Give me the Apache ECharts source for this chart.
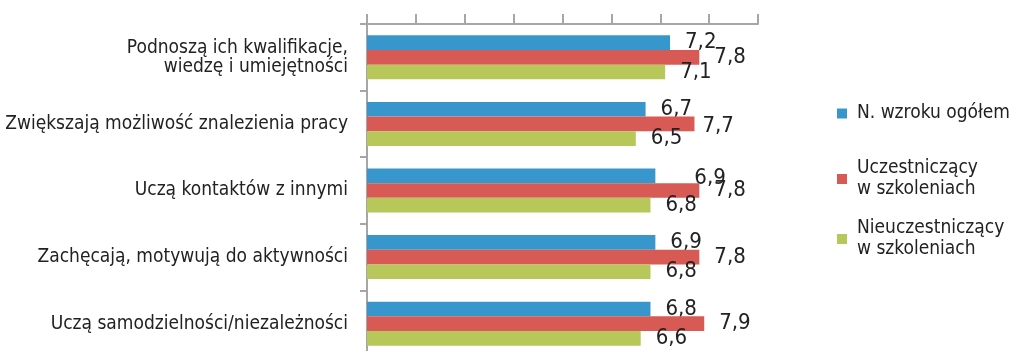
<!DOCTYPE html>
<html>
<head>
<meta charset="utf-8">
<script src="https://cdn.jsdelivr.net/npm/echarts@6/dist/echarts.min.js"></script>
<style>
  html, body { margin: 0; padding: 0; background: #ffffff; }
  #chart { width: 1017px; height: 351px; }
</style>
</head>
<body>
<div id="chart"></div>
<script>
// Ocena szkoleń: średnie oceny w skali 1–9
const categories = [
  'Podnoszą ich kwalifikacje,\nwiedzę i umiejętności',
  'Zwiększają możliwość znalezienia pracy',
  'Uczą kontaktów z innymi',
  'Zachęcają, motywują do aktywności',
  'Uczą samodzielności/niezależności'
];
const seriesNames = [
  'N. wzroku ogółem',
  'Uczestniczący\nw szkoleniach',
  'Nieuczestniczący\nw szkoleniach'
];
const ogolem = [7.2, 6.7, 6.9, 6.9, 6.8];
const uczestniczacy = [7.8, 7.7, 7.8, 7.8, 7.9];
const nieuczestniczacy = [7.1, 6.5, 6.8, 6.8, 6.6];

const colors = ['#3797CD', '#D85A55', '#B8C759'];
const FONT = '"DejaVu Sans Condensed", "Liberation Sans", sans-serif';
const TEXT = '#222222';
const AXIS = '#a6a6a6';

// a couple of value labels are nudged so they do not collide
const labelNudge = {
  '1-1': [-7, 2],
  '0-2': [24, 2]
};

function buildData(values, s) {
  return values.map((v, i) => {
    const nudge = labelNudge[s + '-' + i];
    return nudge ? { value: v, label: { offset: nudge } } : v;
  });
}

// the second category label sits a little lower in its band
const categoryData = categories.map((c, i) =>
  i === 1 ? { value: c, textStyle: { padding: [10, 0, 0, 0] } } : c
);

const allSeries = [ogolem, uczestniczacy, nieuczestniczacy].map((vals, s) => ({
  name: seriesNames[s],
  type: 'bar',
  data: buildData(vals, s),
  itemStyle: { color: colors[s] },
  barGap: '0%',
  barCategoryGap: '34%',
  label: {
    show: true,
    position: 'right',
    distance: 15,
    fontFamily: FONT,
    fontSize: 22,
    color: TEXT,
    formatter: p => p.value.toFixed(1).replace('.', ',')
  },
  z: 2 + s
}));

const legendTops = [103, 158, 218];
const legends = seriesNames.map((name, s) => ({
  data: [name],
  orient: 'vertical',
  left: 837,
  top: legendTops[s],
  padding: 0,
  icon: 'rect',
  itemWidth: 10,
  itemHeight: 10,
  selectedMode: false,
  textStyle: {
    fontFamily: FONT,
    fontSize: 19,
    lineHeight: 21,
    color: TEXT,
    padding: [0, 0, 0, 5]
  }
}));

const chart = echarts.init(document.getElementById('chart'), null, { renderer: 'canvas' });
chart.setOption({
  backgroundColor: '#ffffff',
  animation: false,
  color: colors,
  legend: legends,
  grid: { left: 367, right: 259, top: 24, height: 333, outerBoundsMode: 'none' },
  xAxis: {
    type: 'value',
    position: 'top',
    min: 1,
    max: 9,
    interval: 1,
    axisLine: { show: true, lineStyle: { color: AXIS, width: 2 } },
    axisTick: { show: true, length: 10, lineStyle: { color: AXIS, width: 2 } },
    axisLabel: { show: false },
    splitLine: { show: false }
  },
  yAxis: {
    type: 'category',
    inverse: true,
    data: categoryData,
    axisLine: { show: true, lineStyle: { color: AXIS, width: 2 } },
    axisTick: { show: true, length: 7, lineStyle: { color: AXIS, width: 2 } },
    axisLabel: {
      margin: 19,
      fontFamily: FONT,
      fontSize: 19,
      lineHeight: 19,
      color: TEXT,
      align: 'right'
    }
  },
  series: allSeries
});
</script>
</body>
</html>
